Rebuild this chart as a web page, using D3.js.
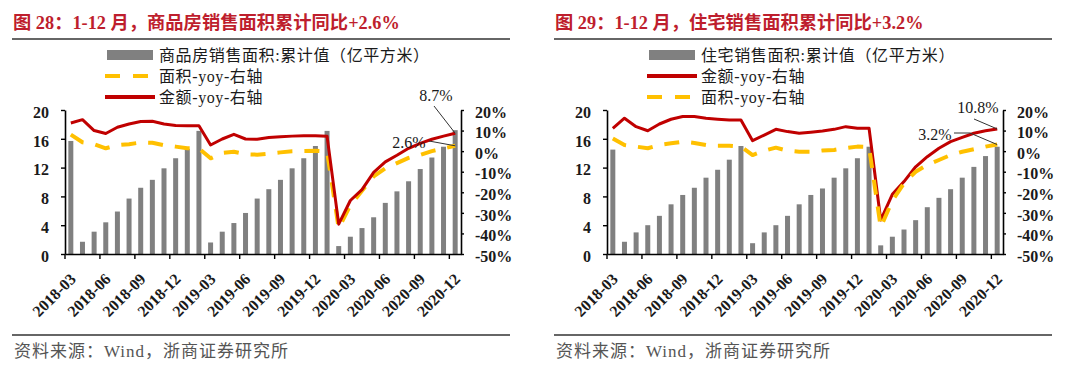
<!DOCTYPE html>
<html>
<head>
<meta charset="utf-8">
<script src="https://cdn.jsdelivr.net/npm/d3@7"></script>
<style>
  body { margin: 0; background: #fff; }
  svg { display: block; }
</style>
</head>
<body>
<div id="chart"></div>
<script>
// ---- data ----------------------------------------------------------
const months = ["2018-03","2018-04","2018-05","2018-06","2018-07","2018-08","2018-09","2018-10","2018-11","2018-12",
  "2019-01","2019-02","2019-03","2019-04","2019-05","2019-06","2019-07","2019-08","2019-09","2019-10","2019-11","2019-12",
  "2020-01","2020-02","2020-03","2020-04","2020-05","2020-06","2020-07","2020-08","2020-09","2020-10","2020-11","2020-12"];
const tickMonths = ["2018-03","2018-06","2018-09","2018-12","2019-03","2019-06","2019-09","2019-12","2020-03","2020-06","2020-09","2020-12"];

// 图28 商品房
const salesAreaCum = [15.7,1.7,3.1,4.4,5.9,7.7,9.2,10.3,11.9,13.3,14.6,17.1,
  1.6,3.1,4.3,5.7,7.7,9.0,10.3,11.9,13.3,15.0,17.1,
  1.1,2.4,3.6,5.1,7.1,8.7,10.1,11.8,13.4,14.9,17.2];
const salesAreaYoy = [8.0,4.3,3.4,1.4,2.9,3.4,4.2,4.1,2.9,2.2,1.4,1.3,
  -3.5,-0.9,-0.3,-1.5,-1.7,-1.2,-0.6,-0.1,0.1,0.2,-0.1,
  -37.5,-26.3,-19.3,-12.3,-8.4,-5.8,-3.3,-1.8,0.0,1.3,2.6];
const salesAmountYoy = [13.7,15.3,10.0,8.6,11.6,13.2,14.4,14.5,13.2,12.5,12.3,12.3,
  3.0,5.9,8.2,5.9,5.8,6.6,7.0,7.3,7.5,7.5,7.3,
  -35.5,-24.0,-18.7,-10.3,-5.2,-2.0,1.4,3.8,5.8,7.3,8.7];

// 图29 住宅
const resAreaCum = [14.5,1.7,3.0,4.0,5.3,6.9,8.2,9.2,10.6,11.7,13.1,15.0,
  1.5,3.0,4.0,5.3,6.9,8.2,9.1,10.6,11.9,13.3,14.9,
  1.2,2.4,3.4,4.7,6.5,7.8,9.0,10.6,12.1,13.6,14.9];
const resAmountYoy = [11.1,16.0,11.9,9.9,13.2,15.5,16.8,16.8,16.0,15.5,15.1,15.1,
  5.1,7.8,10.6,9.5,8.7,9.2,9.8,10.6,11.9,11.1,11.1,
  -33.5,-21.0,-14.8,-7.6,-2.7,1.4,4.6,6.7,8.7,9.9,10.8];
const resAreaYoy = [6.2,3.0,2.2,1.4,3.0,3.8,4.6,4.0,3.0,2.6,2.6,2.2,
  -1.9,0.2,1.7,0.2,-0.3,-0.3,0.3,0.6,1.5,2.2,2.0,
  -37.0,-24.0,-15.6,-10.0,-6.7,-4.3,-1.9,-0.3,0.9,2.2,3.2];

const leftTicks = [0,4,8,12,16,20];
const rightTicks = [-50,-40,-30,-20,-10,0,10,20];

// ---- style ----------------------------------------------------------
const SERIF = '"Liberation Serif","Times New Roman","Noto Sans CJK SC",serif';
const RED = "#c00000", GOLD = "#ffc000", GRAY = "#808080", TITLE_RED = "#be1e2d";

const svg = d3.select("#chart").append("svg")
  .attr("width", 1080).attr("height", 375)
  .style("font-family", SERIF);

const margin = { top: 110, left: 65 }, W = 396, H = 144;

function drawPanel(ox, cfg) {
  const root = svg.append("g").attr("transform", "translate(" + ox + ",0)");

  // title + rules
  root.append("text").attr("x", 13).attr("y", 29)
    .attr("font-size", 18.3).attr("font-weight", "bold").attr("fill", TITLE_RED)
    .text(cfg.title);
  root.append("line").attr("x1", 12).attr("x2", 510).attr("y1", 39).attr("y2", 39)
    .attr("stroke", "#333").attr("stroke-width", 1.3);
  root.append("line").attr("x1", 12).attr("x2", 510).attr("y1", 335).attr("y2", 335)
    .attr("stroke", "#333").attr("stroke-width", 1.3);
  root.append("text").attr("x", 14).attr("y", 357)
    .attr("font-size", 17).attr("letter-spacing", 1).attr("fill", "#555")
    .text("资料来源：Wind，浙商证券研究所");

  // legend
  const lg = root.append("g");
  cfg.legend.forEach((it, i) => {
    const cy = 55 + i * 21;
    if (it.type === "bar") {
      lg.append("rect").attr("x", 107).attr("y", cy - 5).attr("width", 46).attr("height", 10).attr("fill", GRAY);
    } else if (it.type === "dash") {
      lg.append("line").attr("x1", 105).attr("x2", 148).attr("y1", cy).attr("y2", cy)
        .attr("stroke", GOLD).attr("stroke-width", 4).attr("stroke-dasharray", "15,13");
    } else {
      lg.append("line").attr("x1", 105).attr("x2", 155).attr("y1", cy).attr("y2", cy)
        .attr("stroke", RED).attr("stroke-width", 4);
    }
    lg.append("text").attr("x", 159).attr("y", cy).attr("dy", "0.36em")
      .attr("font-size", 16).attr("letter-spacing", 0.6).attr("fill", "#1a1a1a").text(it.label);
  });

  // plot
  const g = root.append("g").attr("transform", "translate(" + margin.left + "," + margin.top + ")");
  const x = d3.scaleBand().domain(months).range([0, W]);
  const yL = d3.scaleLinear().domain([0, 20]).range([H, 0]);
  const yR = d3.scaleLinear().domain([-50, 20]).range([H, 0]);
  const bw = x.bandwidth();

  g.append("g").selectAll("rect").data(cfg.bars).join("rect")
    .attr("x", (d, i) => x(months[i]) + bw / 2 - 2.5)
    .attr("width", 5)
    .attr("y", d => yL(d))
    .attr("height", d => H - yL(d))
    .attr("fill", GRAY);

  const line = d3.line().x((d, i) => x(months[i]) + bw / 2).y(d => yR(d));
  cfg.lines.forEach(s => {
    g.append("path").datum(s.values).attr("d", line)
      .attr("fill", "none")
      .attr("stroke", s.dash ? GOLD : RED)
      .attr("stroke-width", s.dash ? 4 : 3)
      .attr("stroke-dasharray", s.dash ? "15,12" : null)
      .attr("stroke-linejoin", "round");
  });

  // axes
  const ax = g.append("g").attr("transform", "translate(0," + H + ")")
    .call(d3.axisBottom(x).tickValues(tickMonths).tickSize(5).tickSizeOuter(0));
  ax.selectAll(".tick line").attr("x1", -bw / 2).attr("x2", -bw / 2);
  ax.selectAll(".tick text")
    .attr("font-size", 16).attr("font-weight", "bold").attr("font-family", SERIF).attr("fill", "#1a1a1a")
    .attr("text-anchor", "end").attr("dy", 0).attr("y", 0)
    .attr("transform", "translate(6,26) rotate(-45)");

  const al = g.append("g")
    .call(d3.axisLeft(yL).tickValues(leftTicks).tickSize(4).tickSizeOuter(0).tickPadding(12));
  al.selectAll(".tick text").attr("font-size", 16).attr("font-weight", "bold")
    .attr("font-family", SERIF).attr("fill", "#1a1a1a").attr("dy", "0.45em");

  const ar = g.append("g").attr("transform", "translate(" + W + ",0)")
    .call(d3.axisRight(yR).tickValues(rightTicks).tickSize(3).tickSizeOuter(0).tickPadding(11)
      .tickFormat(d => d + "%"));
  ar.selectAll(".tick text").attr("font-size", 16).attr("font-weight", "bold")
    .attr("font-family", SERIF).attr("fill", "#1a1a1a").attr("dy", "0.45em");

  [ax, al, ar].forEach(a => {
    a.select(".domain").attr("stroke", "#000").attr("stroke-width", 1.6);
    a.selectAll(".tick line").attr("stroke", "#000").attr("stroke-width", 1.4);
  });

  // annotations
  const last = months.length - 1;
  const lx = x(months[last]) + bw / 2;
  cfg.notes.forEach(n => {
    const py = yR(n.value);
    g.append("polyline")
      .attr("points", n.leader.map(p => p.join(",")).join(" ") + " " + lx + "," + py)
      .attr("fill", "none").attr("stroke", "#333").attr("stroke-width", 1);
    g.append("text").attr("x", n.tx).attr("y", n.ty).attr("dy", "0.35em")
      .attr("text-anchor", "middle").attr("font-size", 16).attr("fill", "#1a1a1a")
      .text(n.value + "%");
  });
}

drawPanel(0, {
  title: "图 28：1-12 月，商品房销售面积累计同比+2.6%",
  legend: [
    { type: "bar", label: "商品房销售面积:累计值（亿平方米）" },
    { type: "dash", label: "面积-yoy-右轴" },
    { type: "line", label: "金额-yoy-右轴" }
  ],
  bars: salesAreaCum,
  lines: [{ values: salesAreaYoy, dash: true }, { values: salesAmountYoy, dash: false }],
  notes: [
    { value: 8.7, tx: 371, ty: -15, leader: [[369, -4]] },
    { value: 2.6, tx: 344, ty: 32, leader: [[364, 31]] }
  ]
});

drawPanel(542, {
  title: "图 29：1-12 月，住宅销售面积累计同比+3.2%",
  legend: [
    { type: "bar", label: "住宅销售面积:累计值（亿平方米）" },
    { type: "line", label: "金额-yoy-右轴" },
    { type: "dash", label: "面积-yoy-右轴" }
  ],
  bars: resAreaCum,
  lines: [{ values: resAmountYoy, dash: false }, { values: resAreaYoy, dash: true }],
  notes: [
    { value: 10.8, tx: 371, ty: -3, leader: [[367, 9]] },
    { value: 3.2, tx: 328, ty: 24, leader: [[347, 23], [363, 23]] }
  ]
});
</script>
</body>
</html>
